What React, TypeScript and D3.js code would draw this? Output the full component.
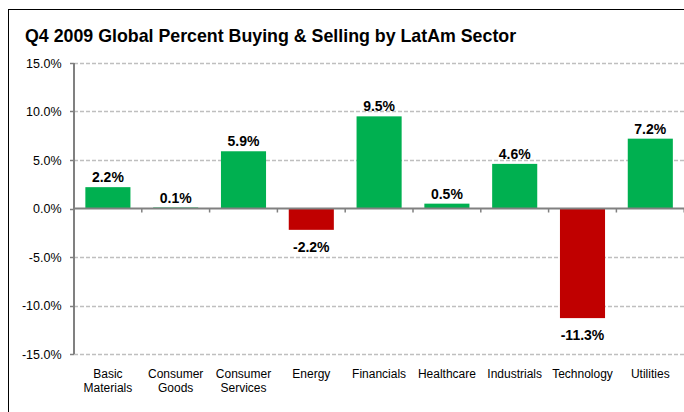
import React from "react";
import * as d3 from "d3";

const categories: string[][] = [
  ["Basic", "Materials"],
  ["Consumer", "Goods"],
  ["Consumer", "Services"],
  ["Energy"],
  ["Financials"],
  ["Healthcare"],
  ["Industrials"],
  ["Technology"],
  ["Utilities"],
];
const values: number[] = [2.2, 0.1, 5.9, -2.2, 9.5, 0.5, 4.6, -11.3, 7.2];
const yTicks: number[] = [15, 10, 5, 0, -5, -10, -15];
const title = "Q4 2009 Global Percent Buying & Selling by LatAm Sector";

const W = 684;
const H = 412;

export default function App() {
  const x0 = 74;
  const x1 = 684.2;
  const y = d3.scaleLinear().domain([-15, 15]).range([354, 63]);
  const keys = categories.map((c) => c.join(" "));
  const x = d3.scaleBand<string>().domain(keys).range([x0, x1]).paddingInner(0.335).paddingOuter(0.1675);
  const step = x.step();
  const font = "'Liberation Sans', Arial, sans-serif";
  const fmt = (v: number) => v.toFixed(1) + "%";
  return (
    <svg width={W} height={H} style={{ position: "absolute", left: 0, top: 0, background: "#fff" }} fontFamily={font}>
      <rect x={8.5} y={9.5} width={W} height={H} fill="#fff" stroke="#000" strokeWidth={1} />
      <text x={25} y={42} fontSize={17.8} fontWeight="bold" fill="#000">{title}</text>
      {yTicks.map((t) => (
        <g key={t}>
          {t !== 0 && (
            <line x1={x0} x2={W} y1={Math.round(y(t)) + 0.5} y2={Math.round(y(t)) + 0.5} stroke="#BFBFBF" strokeWidth={1.5} strokeDasharray="4,2" />
          )}
          <line x1={x0 - 4} x2={x0} y1={Math.round(y(t)) + 0.5} y2={Math.round(y(t)) + 0.5} stroke="#808080" strokeWidth={1.5} />
          <text x={61.5} y={y(t) + 4.5} fontSize={12.5} textAnchor="end" fill="#000">{t.toFixed(1) + "%"}</text>
        </g>
      ))}
      {values.map((v, i) => {
        const k = keys[i];
        const bx = x(k)!;
        const top = y(Math.max(v, 0));
        const bot = y(Math.min(v, 0));
        const h = Math.max(bot - top, 1);
        const cx = bx + x.bandwidth() / 2;
        return (
          <g key={k}>
            <rect x={bx} y={v >= 0 ? bot - h : top} width={x.bandwidth()} height={h} fill={v >= 0 ? "#00B050" : "#C00000"} />
            <text x={cx} y={v >= 0 ? top - 5 : bot + 22} fontSize={14} fontWeight="bold" textAnchor="middle" fill="#000">{fmt(v)}</text>
          </g>
        );
      })}
      <line x1={x0} x2={W} y1={y(0)} y2={y(0)} stroke="#808080" strokeWidth={2} />
      {keys.map((k, i) => (
        <line key={k} x1={x0 + step * (i + 1)} x2={x0 + step * (i + 1)} y1={y(0)} y2={y(0) + 4} stroke="#808080" strokeWidth={1.5} />
      ))}
      <line x1={x0} x2={x0} y1={y(15)} y2={y(-15)} stroke="#808080" strokeWidth={2} />
      {categories.map((lines, i) => {
        const cx = x0 + step * (i + 0.5);
        return (
          <text key={i} x={cx} y={378} fontSize={12} textAnchor="middle" fill="#000">
            {lines.map((l, j) => (
              <tspan key={j} x={cx} dy={j === 0 ? 0 : 14}>{l}</tspan>
            ))}
          </text>
        );
      })}
    </svg>
  );
}
